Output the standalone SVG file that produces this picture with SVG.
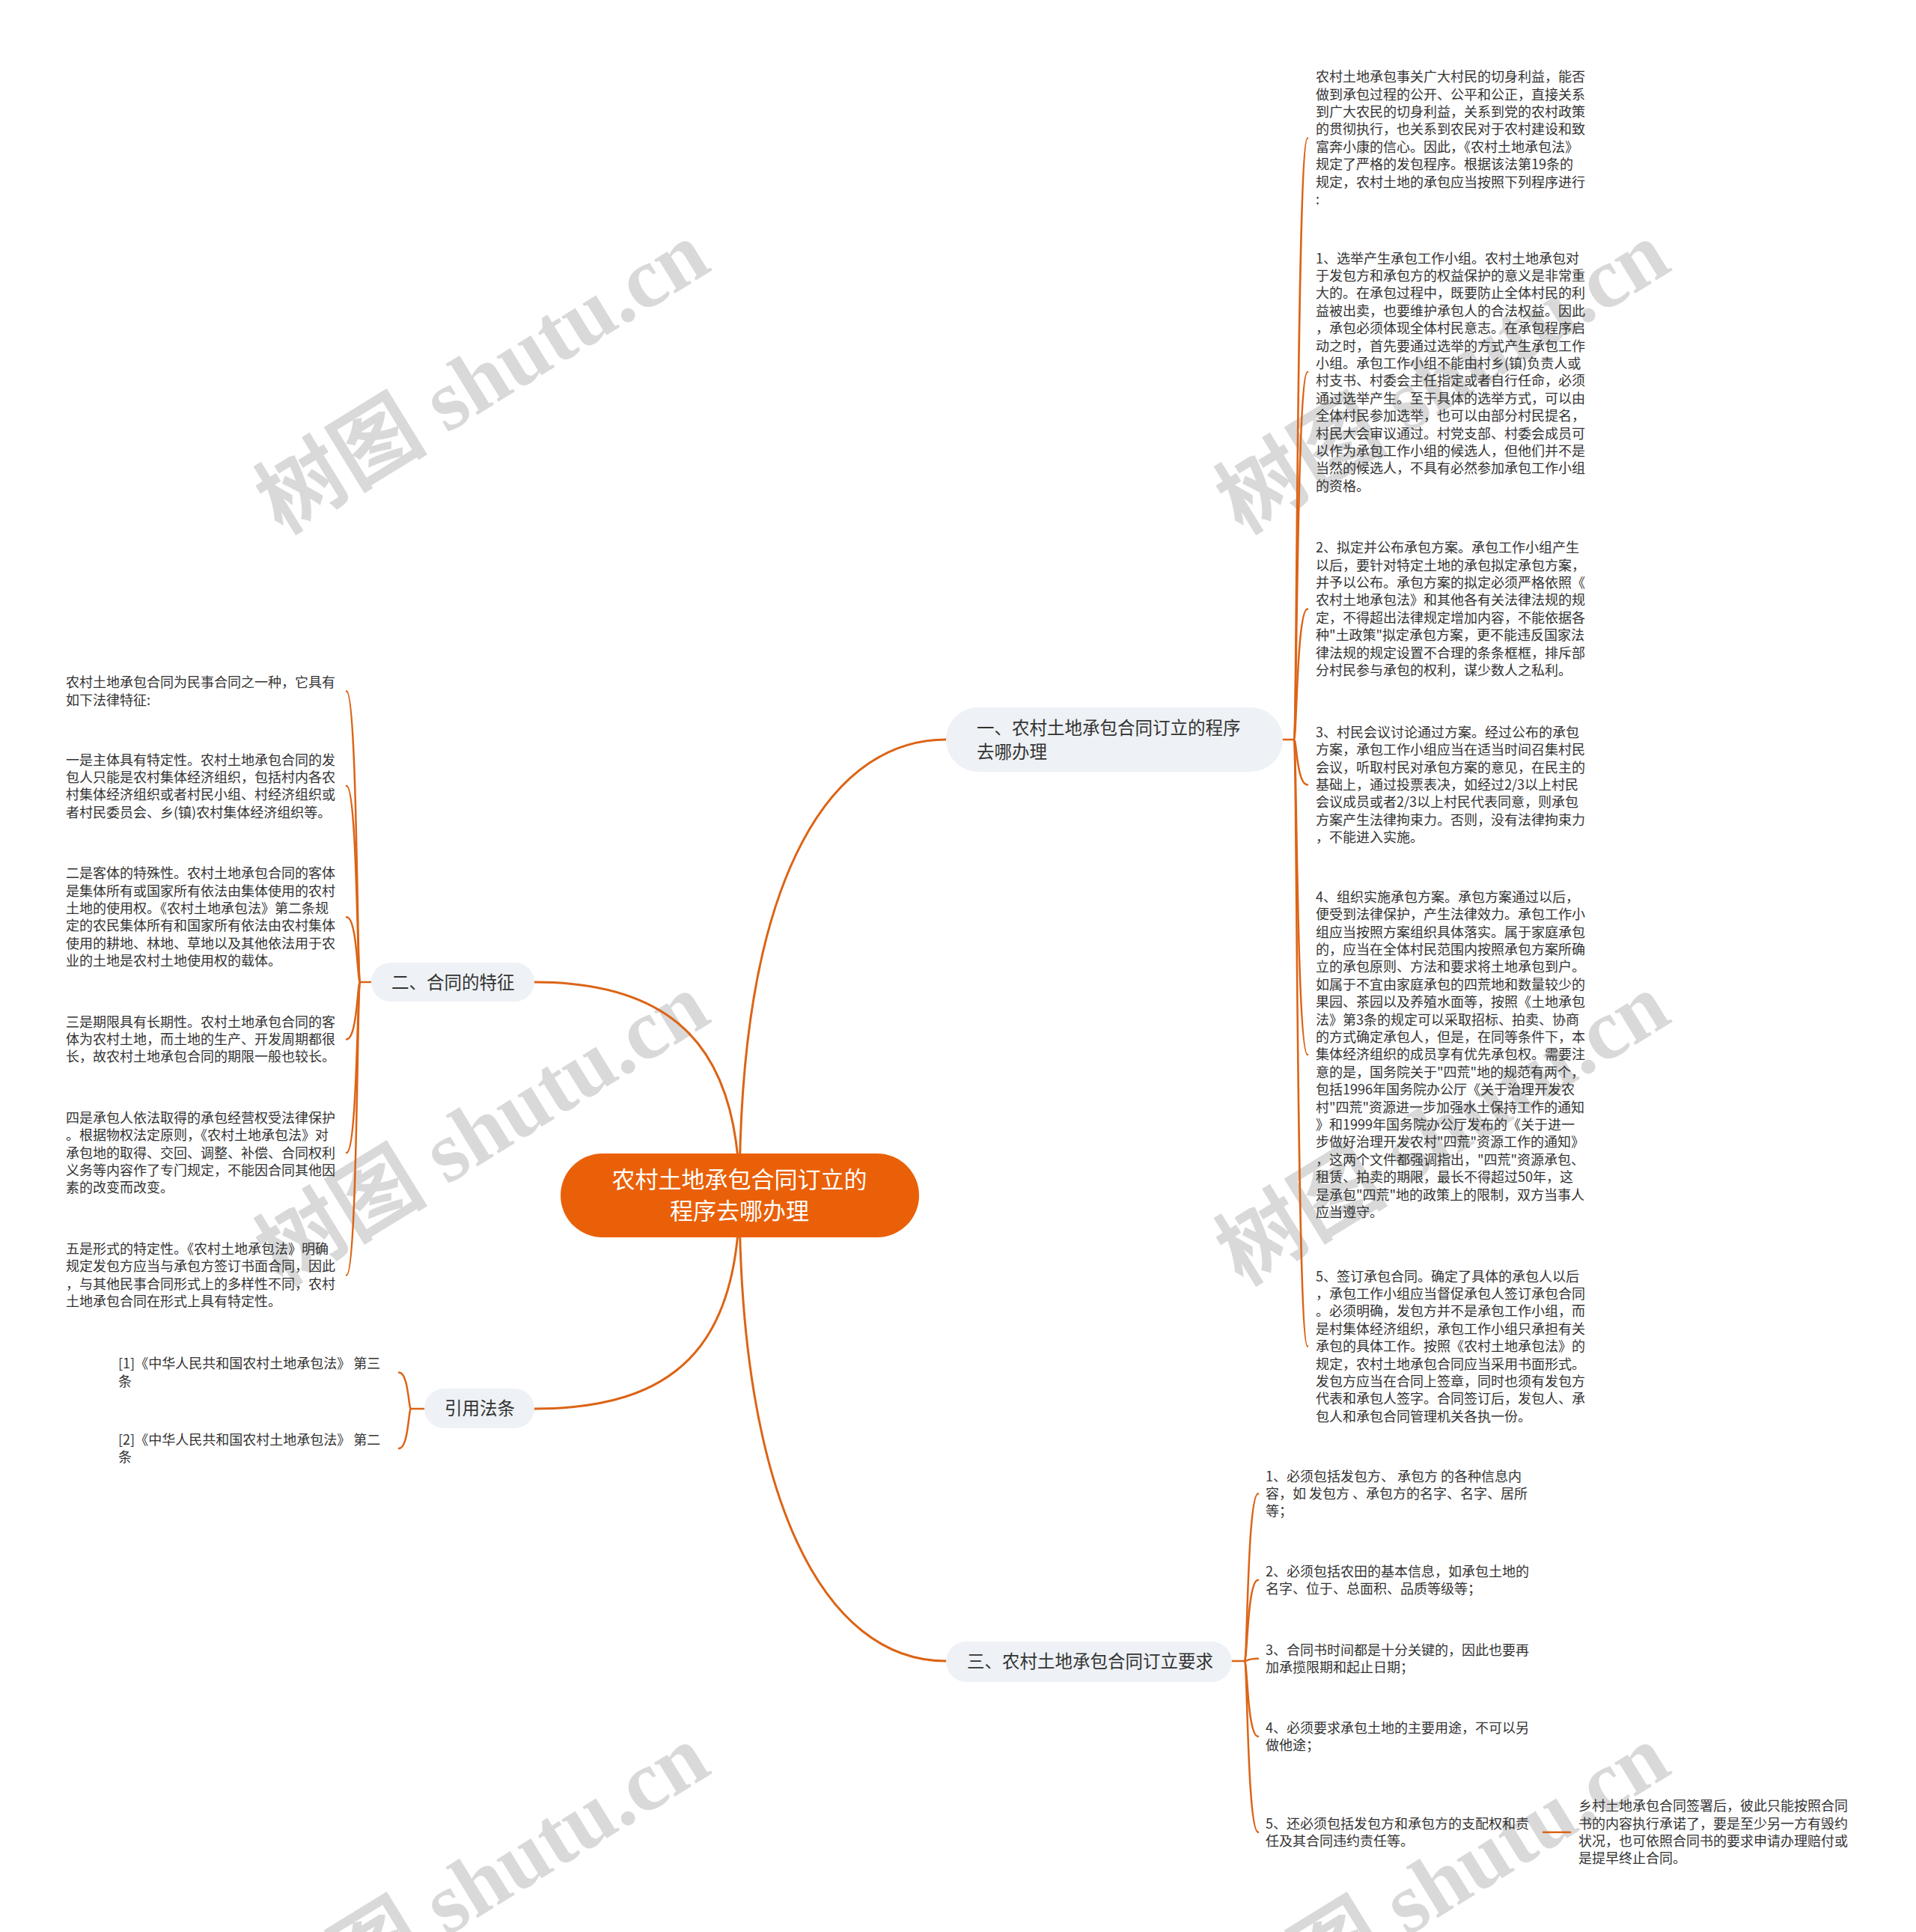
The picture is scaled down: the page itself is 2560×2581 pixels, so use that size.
<svg xmlns="http://www.w3.org/2000/svg" width="2560" height="2581" viewBox="0 0 2560 2581">
<style>
.wm{font-family:"Liberation Serif","Noto Sans CJK SC",serif;font-weight:bold;font-size:115px;fill:#d9d9d9}
.ln{fill:none;stroke:#DC6416;stroke-width:2.5;stroke-linecap:round}
.lm{stroke-width:3}
.t{font-family:"Noto Sans CJK SC","Noto Sans",sans-serif;font-size:18px;fill:#333}
.nl{font-family:"Noto Sans CJK SC","Noto Sans",sans-serif;font-size:23.5px;fill:#333}
.sub{fill:#EEF1F5}
.root{fill:#EA6008}
.rt{font-family:"Noto Sans CJK SC","Noto Sans",sans-serif;font-size:31px;fill:#fff;text-anchor:middle}
</style>
<rect width="2560" height="2581" fill="#fff"/>
<g id="watermarks" text-anchor="middle">
<text class="wm" transform="translate(645 505) rotate(-31.6)" y="38">树图 shutu.cn</text>
<text class="wm" transform="translate(1928 505) rotate(-31.6)" y="38">树图 shutu.cn</text>
<text class="wm" transform="translate(645 1509) rotate(-31.6)" y="38">树图 shutu.cn</text>
<text class="wm" transform="translate(1928 1509) rotate(-31.6)" y="38">树图 shutu.cn</text>
<text class="wm" transform="translate(645 2513) rotate(-31.6)" y="38">树图 shutu.cn</text>
<text class="wm" transform="translate(1928 2513) rotate(-31.6)" y="38">树图 shutu.cn</text>
</g>
<g id="connectors">
<path class="ln lm" d="M988 1597 C988 1150 1120 988 1264 988"/>
<path class="ln lm" d="M988 1597 C988 1400 900 1312 714 1312"/>
<path class="ln lm" d="M988 1597 C988 1800 900 1882 714 1882"/>
<path class="ln lm" d="M988 1597 C988 2000 1100 2219 1264 2219"/>
<path class="ln" d="M1714 988 H1729"/>
<path class="ln" d="M1729 988 C1732.6 988 1732.6 184.6 1747 184.6"/>
<path class="ln" d="M1729 988 C1732.6 988 1732.6 497.1 1747 497.1"/>
<path class="ln" d="M1729 988 C1732.6 988 1732.6 813.6 1747 813.6"/>
<path class="ln" d="M1729 988 C1732.6 988 1732.6 1048.5 1747 1048.5"/>
<path class="ln" d="M1729 988 C1732.6 988 1732.6 1408.9 1747 1408.9"/>
<path class="ln" d="M1729 988 C1732.6 988 1732.6 1798.6 1747 1798.6"/>
<path class="ln" d="M1646 2219 H1663"/>
<path class="ln" d="M1663 2219 C1666.6 2219 1666.6 1995.4 1681 1995.4"/>
<path class="ln" d="M1663 2219 C1666.6 2219 1666.6 2110.7 1681 2110.7"/>
<path class="ln" d="M1663 2219 C1666.6 2219 1666.6 2215.7 1681 2215.7"/>
<path class="ln" d="M1663 2219 C1666.6 2219 1666.6 2319.7 1681 2319.7"/>
<path class="ln" d="M1663 2219 C1666.6 2219 1666.6 2447.7 1681 2447.7"/>
<path class="ln" d="M2062 2447.7 H2098"/>
<path class="ln" d="M496 1312 H481"/>
<path class="ln" d="M481 1312 C477.4 1312 477.4 923.4 463 923.4"/>
<path class="ln" d="M481 1312 C477.4 1312 477.4 1050.1 463 1050.1"/>
<path class="ln" d="M481 1312 C477.4 1312 477.4 1225.2 463 1225.2"/>
<path class="ln" d="M481 1312 C477.4 1312 477.4 1388.4 463 1388.4"/>
<path class="ln" d="M481 1312 C477.4 1312 477.4 1540.1 463 1540.1"/>
<path class="ln" d="M481 1312 C477.4 1312 477.4 1703.4 463 1703.4"/>
<path class="ln" d="M567 1882 H549"/>
<path class="ln" d="M549 1882 C545.8 1882 545.8 1833.4 533 1833.4"/>
<path class="ln" d="M549 1882 C545.8 1882 545.8 1935 533 1935"/>
</g>
<g id="root">
<rect class="root" x="749" y="1541" width="479" height="112" rx="56"/>
<text class="rt" x="988" y="1587">农村土地承包合同订立的</text>
<text class="rt" x="988" y="1629">程序去哪办理</text>
</g>
<g id="n1">
<rect class="sub" x="1264" y="945" width="450" height="86" rx="43"/>
<text class="nl" x="1305" y="980.5">一、农村土地承包合同订立的程序</text>
<text class="nl" x="1305" y="1012.5">去哪办理</text>
</g>
<g id="n2">
<rect class="sub" x="496" y="1286" width="218" height="52" rx="26"/>
<text class="nl" x="523" y="1320.5">二、合同的特征</text>
</g>
<g id="n3">
<rect class="sub" x="567" y="1855" width="147" height="53" rx="26.5"/>
<text class="nl" x="594" y="1890">引用法条</text>
</g>
<g id="n4">
<rect class="sub" x="1264" y="2193" width="382" height="54" rx="27"/>
<text class="nl" x="1292" y="2227.5">三、农村土地承包合同订立要求</text>
</g>
<g id="n1-intro">
<text class="t" y="109.2"><tspan x="1758">农村土地承包事关广大村民的切身利益，能否</tspan><tspan x="1758" dy="23.4">做到承包过程的公开、公平和公正，直接关系</tspan><tspan x="1758" dy="23.4">到广大农民的切身利益，关系到党的农村政策</tspan><tspan x="1758" dy="23.4">的贯彻执行，也关系到农民对于农村建设和致</tspan><tspan x="1758" dy="23.4">富奔小康的信心。因此，《农村土地承包法》</tspan><tspan x="1758" dy="23.4">规定了严格的发包程序。根据该法第19条的</tspan><tspan x="1758" dy="23.4">规定，农村土地的承包应当按照下列程序进行</tspan><tspan x="1758" dy="23.4">:</tspan></text>
</g>
<g id="n1-1">
<text class="t" y="351.5"><tspan x="1758">1、选举产生承包工作小组。农村土地承包对</tspan><tspan x="1758" dy="23.4">于发包方和承包方的权益保护的意义是非常重</tspan><tspan x="1758" dy="23.4">大的。在承包过程中，既要防止全体村民的利</tspan><tspan x="1758" dy="23.4">益被出卖，也要维护承包人的合法权益。因此</tspan><tspan x="1758" dy="23.4">，承包必须体现全体村民意志。在承包程序启</tspan><tspan x="1758" dy="23.4">动之时，首先要通过选举的方式产生承包工作</tspan><tspan x="1758" dy="23.4">小组。承包工作小组不能由村乡(镇)负责人或</tspan><tspan x="1758" dy="23.4">村支书、村委会主任指定或者自行任命，必须</tspan><tspan x="1758" dy="23.4">通过选举产生。至于具体的选举方式，可以由</tspan><tspan x="1758" dy="23.4">全体村民参加选举，也可以由部分村民提名，</tspan><tspan x="1758" dy="23.4">村民大会审议通过。村党支部、村委会成员可</tspan><tspan x="1758" dy="23.4">以作为承包工作小组的候选人，但他们并不是</tspan><tspan x="1758" dy="23.4">当然的候选人，不具有必然参加承包工作小组</tspan><tspan x="1758" dy="23.4">的资格。</tspan></text>
</g>
<g id="n1-2">
<text class="t" y="738.2"><tspan x="1758">2、拟定并公布承包方案。承包工作小组产生</tspan><tspan x="1758" dy="23.4">以后，要针对特定土地的承包拟定承包方案，</tspan><tspan x="1758" dy="23.4">并予以公布。承包方案的拟定必须严格依照《</tspan><tspan x="1758" dy="23.4">农村土地承包法》和其他各有关法律法规的规</tspan><tspan x="1758" dy="23.4">定，不得超出法律规定增加内容，不能依据各</tspan><tspan x="1758" dy="23.4">种"土政策"拟定承包方案，更不能违反国家法</tspan><tspan x="1758" dy="23.4">律法规的规定设置不合理的条条框框，排斥部</tspan><tspan x="1758" dy="23.4">分村民参与承包的权利，谋少数人之私利。</tspan></text>
</g>
<g id="n1-3">
<text class="t" y="984.8"><tspan x="1758">3、村民会议讨论通过方案。经过公布的承包</tspan><tspan x="1758" dy="23.4">方案，承包工作小组应当在适当时间召集村民</tspan><tspan x="1758" dy="23.4">会议，听取村民对承包方案的意见，在民主的</tspan><tspan x="1758" dy="23.4">基础上，通过投票表决，如经过2/3以上村民</tspan><tspan x="1758" dy="23.4">会议成员或者2/3以上村民代表同意，则承包</tspan><tspan x="1758" dy="23.4">方案产生法律拘束力。否则，没有法律拘束力</tspan><tspan x="1758" dy="23.4">，不能进入实施。</tspan></text>
</g>
<g id="n1-4">
<text class="t" y="1204.8"><tspan x="1758">4、组织实施承包方案。承包方案通过以后，</tspan><tspan x="1758" dy="23.4">便受到法律保护，产生法律效力。承包工作小</tspan><tspan x="1758" dy="23.4">组应当按照方案组织具体落实。属于家庭承包</tspan><tspan x="1758" dy="23.4">的，应当在全体村民范围内按照承包方案所确</tspan><tspan x="1758" dy="23.4">立的承包原则、方法和要求将土地承包到户。</tspan><tspan x="1758" dy="23.4">如属于不宜由家庭承包的四荒地和数量较少的</tspan><tspan x="1758" dy="23.4">果园、茶园以及养殖水面等，按照《土地承包</tspan><tspan x="1758" dy="23.4">法》第3条的规定可以采取招标、拍卖、协商</tspan><tspan x="1758" dy="23.4">的方式确定承包人，但是，在同等条件下，本</tspan><tspan x="1758" dy="23.4">集体经济组织的成员享有优先承包权。需要注</tspan><tspan x="1758" dy="23.4">意的是，国务院关于"四荒"地的规范有两个，</tspan><tspan x="1758" dy="23.4">包括1996年国务院办公厅《关于治理开发农</tspan><tspan x="1758" dy="23.4">村"四荒"资源进一步加强水土保持工作的通知</tspan><tspan x="1758" dy="23.4">》和1999年国务院办公厅发布的《关于进一</tspan><tspan x="1758" dy="23.4">步做好治理开发农村"四荒"资源工作的通知》</tspan><tspan x="1758" dy="23.4">，这两个文件都强调指出，"四荒"资源承包、</tspan><tspan x="1758" dy="23.4">租赁、拍卖的期限，最长不得超过50年，这</tspan><tspan x="1758" dy="23.4">是承包"四荒"地的政策上的限制，双方当事人</tspan><tspan x="1758" dy="23.4">应当遵守。</tspan></text>
</g>
<g id="n1-5">
<text class="t" y="1711.5"><tspan x="1758">5、签订承包合同。确定了具体的承包人以后</tspan><tspan x="1758" dy="23.4">，承包工作小组应当督促承包人签订承包合同</tspan><tspan x="1758" dy="23.4">。必须明确，发包方并不是承包工作小组，而</tspan><tspan x="1758" dy="23.4">是村集体经济组织，承包工作小组只承担有关</tspan><tspan x="1758" dy="23.4">承包的具体工作。按照《农村土地承包法》的</tspan><tspan x="1758" dy="23.4">规定，农村土地承包合同应当采用书面形式。</tspan><tspan x="1758" dy="23.4">发包方应当在合同上签章，同时也须有发包方</tspan><tspan x="1758" dy="23.4">代表和承包人签字。合同签订后，发包人、承</tspan><tspan x="1758" dy="23.4">包人和承包合同管理机关各执一份。</tspan></text>
</g>
<g id="n4-1">
<text class="t" y="1978.5"><tspan x="1691">1、必须包括发包方、 承包方 的各种信息内</tspan><tspan x="1691" dy="23.4">容，如 发包方 、承包方的名字、名字、居所</tspan><tspan x="1691" dy="23.4">等；</tspan></text>
</g>
<g id="n4-2">
<text class="t" y="2105.5"><tspan x="1691">2、必须包括农田的基本信息，如承包土地的</tspan><tspan x="1691" dy="23.4">名字、位于、总面积、品质等级等；</tspan></text>
</g>
<g id="n4-3">
<text class="t" y="2210.5"><tspan x="1691">3、合同书时间都是十分关键的，因此也要再</tspan><tspan x="1691" dy="23.4">加承揽限期和起止日期；</tspan></text>
</g>
<g id="n4-4">
<text class="t" y="2314.5"><tspan x="1691">4、必须要求承包土地的主要用途，不可以另</tspan><tspan x="1691" dy="23.4">做他途；</tspan></text>
</g>
<g id="n4-5">
<text class="t" y="2442.5"><tspan x="1691">5、还必须包括发包方和承包方的支配权和责</tspan><tspan x="1691" dy="23.4">任及其合同违约责任等。</tspan></text>
</g>
<g id="n4-5-1">
<text class="t" y="2419.2"><tspan x="2109">乡村土地承包合同签署后，彼此只能按照合同</tspan><tspan x="2109" dy="23.4">书的内容执行承诺了，要是至少另一方有毁约</tspan><tspan x="2109" dy="23.4">状况，也可依照合同书的要求申请办理赔付或</tspan><tspan x="2109" dy="23.4">是提早终止合同。</tspan></text>
</g>
<g id="n2-a">
<text class="t" y="918.2"><tspan x="88">农村土地承包合同为民事合同之一种，它具有</tspan><tspan x="88" dy="23.4">如下法律特征:</tspan></text>
</g>
<g id="n2-b">
<text class="t" y="1021.5"><tspan x="88">一是主体具有特定性。农村土地承包合同的发</tspan><tspan x="88" dy="23.4">包人只能是农村集体经济组织，包括村内各农</tspan><tspan x="88" dy="23.4">村集体经济组织或者村民小组、村经济组织或</tspan><tspan x="88" dy="23.4">者村民委员会、乡(镇)农村集体经济组织等。</tspan></text>
</g>
<g id="n2-c">
<text class="t" y="1173.2"><tspan x="88">二是客体的特殊性。农村土地承包合同的客体</tspan><tspan x="88" dy="23.4">是集体所有或国家所有依法由集体使用的农村</tspan><tspan x="88" dy="23.4">土地的使用权。《农村土地承包法》第二条规</tspan><tspan x="88" dy="23.4">定的农民集体所有和国家所有依法由农村集体</tspan><tspan x="88" dy="23.4">使用的耕地、林地、草地以及其他依法用于农</tspan><tspan x="88" dy="23.4">业的土地是农村土地使用权的载体。</tspan></text>
</g>
<g id="n2-d">
<text class="t" y="1371.5"><tspan x="88">三是期限具有长期性。农村土地承包合同的客</tspan><tspan x="88" dy="23.4">体为农村土地，而土地的生产、开发周期都很</tspan><tspan x="88" dy="23.4">长，故农村土地承包合同的期限一般也较长。</tspan></text>
</g>
<g id="n2-e">
<text class="t" y="1499.8"><tspan x="88">四是承包人依法取得的承包经营权受法律保护</tspan><tspan x="88" dy="23.4">。根据物权法定原则，《农村土地承包法》对</tspan><tspan x="88" dy="23.4">承包地的取得、交回、调整、补偿、合同权利</tspan><tspan x="88" dy="23.4">义务等内容作了专门规定，不能因合同其他因</tspan><tspan x="88" dy="23.4">素的改变而改变。</tspan></text>
</g>
<g id="n2-f">
<text class="t" y="1674.8"><tspan x="88">五是形式的特定性。《农村土地承包法》明确</tspan><tspan x="88" dy="23.4">规定发包方应当与承包方签订书面合同，因此</tspan><tspan x="88" dy="23.4">，与其他民事合同形式上的多样性不同，农村</tspan><tspan x="88" dy="23.4">土地承包合同在形式上具有特定性。</tspan></text>
</g>
<g id="n3-1">
<text class="t" y="1828.2"><tspan x="158">[1]《中华人民共和国农村土地承包法》 第三</tspan><tspan x="158" dy="23.4">条</tspan></text>
</g>
<g id="n3-2">
<text class="t" y="1929.8"><tspan x="158">[2]《中华人民共和国农村土地承包法》 第二</tspan><tspan x="158" dy="23.4">条</tspan></text>
</g>
</svg>
